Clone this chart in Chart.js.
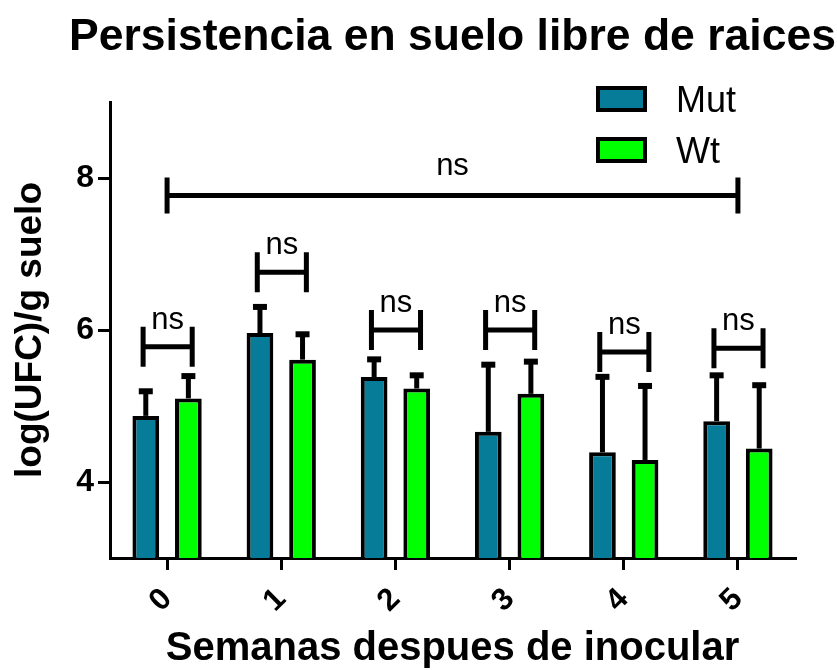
<!DOCTYPE html>
<html>
<head>
<meta charset="utf-8">
<script src="https://cdn.jsdelivr.net/npm/chart.js@4.4.1/dist/chart.umd.min.js"></script>
<style>
  html, body { margin: 0; padding: 0; background: #fff; }
</style>
</head>
<body>
<canvas id="chart" width="837" height="670"></canvas>
<script>
// datos
const semanas = ['0', '1', '2', '3', '4', '5'];
const mutMedia = [4.87, 5.96, 5.38, 4.66, 4.39, 4.80];
const mutDE = [0.35, 0.37, 0.26, 0.91, 1.02, 0.63];
const wtMedia = [5.10, 5.61, 5.23, 5.16, 4.29, 4.44];
const wtDE = [0.32, 0.36, 0.20, 0.45, 1.00, 0.86];
const yTicks = [4, 6, 8];
// nivel de cada comparacion Mut vs Wt (ns)
const nivelNs = [5.78, 6.76, 6.0, 6.0, 5.71, 5.76];
// comparacion semana 0 vs semana 5
const nivelGlobal = 7.77;

const FONT = 'Arial, "Liberation Sans", sans-serif';
Chart.defaults.font.family = FONT;
Chart.defaults.color = '#000';

// barras de error, corchetes "ns", leyenda y titulo al estilo Prism
const prismExtras = {
  id: 'prismExtras',
  afterDatasetsDraw(chart) {
    const { ctx, chartArea, scales: { x, y } } = chart;
    ctx.save();
    ctx.strokeStyle = '#000';
    ctx.fillStyle = '#000';
    ctx.lineCap = 'butt';

    // error solo hacia arriba
    chart.data.datasets.forEach((ds, i) => {
      chart.getDatasetMeta(i).data.forEach((bar, j) => {
        const top = y.getPixelForValue(ds.data[j] + ds.errores[j]);
        ctx.lineWidth = 5;
        ctx.beginPath();
        ctx.moveTo(bar.x, bar.y);
        ctx.lineTo(bar.x, top);
        ctx.stroke();
        ctx.lineWidth = 6;
        ctx.beginPath();
        ctx.moveTo(bar.x - 7, top + 2);
        ctx.lineTo(bar.x + 7, top + 2);
        ctx.stroke();
      });
    });

    const corchete = (x1, x2, valor, alto, sep) => {
      const py = y.getPixelForValue(valor);
      ctx.lineWidth = 5;
      ctx.beginPath();
      ctx.moveTo(x1, py); ctx.lineTo(x2, py);
      ctx.moveTo(x1, py - alto); ctx.lineTo(x1, py + alto);
      ctx.moveTo(x2, py - alto); ctx.lineTo(x2, py + alto);
      ctx.stroke();
      ctx.font = '31px ' + FONT;
      ctx.textAlign = 'center';
      ctx.textBaseline = 'alphabetic';
      ctx.fillText('ns', (x1 + x2) / 2, py - sep);
    };
    const paso = x.getPixelForValue(1) - x.getPixelForValue(0);
    nivelNs.forEach((v, i) => {
      const cx = x.getPixelForValue(i);
      corchete(cx - 0.21 * paso, cx + 0.22 * paso, v, 20, 18);
    });
    corchete(x.getPixelForValue(0), x.getPixelForValue(semanas.length - 1), nivelGlobal, 18, 20);

    // leyenda
    chart.data.datasets.forEach((ds, i) => {
      const bx = chartArea.right - 197, by = chartArea.top - 14 + i * 51;
      ctx.fillStyle = ds.backgroundColor;
      ctx.fillRect(bx, by, 47, 22);
      ctx.lineWidth = 4;
      ctx.strokeRect(bx, by, 47, 22);
      ctx.fillStyle = '#000';
      ctx.font = '36px ' + FONT;
      ctx.textAlign = 'left';
      ctx.textBaseline = 'middle';
      ctx.fillText(ds.label, bx + 78, by + 14);
    });

    // titulo
    ctx.font = 'bold 44.5px ' + FONT;
    ctx.textAlign = 'center';
    ctx.textBaseline = 'alphabetic';
    ctx.fillText('Persistencia en suelo libre de raices', (chartArea.left + chartArea.right) / 2, 50);
    ctx.restore();
  }
};

new Chart(document.getElementById('chart'), {
  type: 'bar',
  data: {
    labels: semanas,
    datasets: [
      {
        label: 'Mut',
        data: mutMedia,
        errores: mutDE,
        backgroundColor: '#077C98',
        borderColor: '#000',
        borderWidth: 4,
        borderSkipped: false,
        categoryPercentage: 0.746,
        barPercentage: 0.627
      },
      {
        label: 'Wt',
        data: wtMedia,
        errores: wtDE,
        backgroundColor: '#00FF00',
        borderColor: '#000',
        borderWidth: 4,
        borderSkipped: false,
        categoryPercentage: 0.746,
        barPercentage: 0.627
      }
    ]
  },
  options: {
    responsive: false,
    animation: false,
    layout: { padding: { top: 102, right: 42, bottom: 0, left: 0 } },
    plugins: { legend: { display: false }, tooltip: { enabled: false } },
    scales: {
      x: {
        afterFit: (s) => { s.height = 112; },
        border: { display: true, color: '#000', width: 3 },
        grid: { offset: false, drawOnChartArea: false, drawTicks: true, tickLength: 12, color: '#000', lineWidth: 3 },
        ticks: { autoSkip: false, minRotation: 45, maxRotation: 45, padding: 11, font: { size: 31, weight: 'bold' } },
        title: {
          display: true,
          text: 'Semanas despues de inocular',
          font: { size: 40, weight: 'bold', lineHeight: 1 },
          padding: { top: 0, bottom: 1 }
        }
      },
      y: {
        min: 3,
        max: 9,
        afterFit: (s) => { s.width = 110; },
        afterBuildTicks: (s) => { s.ticks = yTicks.map(v => ({ value: v })); },
        border: { display: true, color: '#000', width: 3 },
        grid: { drawOnChartArea: false, drawTicks: true, tickLength: 12, color: '#000', lineWidth: 3 },
        ticks: { padding: 4, font: { size: 32, weight: 'bold' } },
        title: {
          display: true,
          text: 'log(UFC)/g suelo',
          font: { size: 37, weight: 'bold', lineHeight: 1.2 },
          padding: { top: 9, bottom: 0 }
        }
      }
    }
  },
  plugins: [prismExtras]
});
</script>
</body>
</html>
